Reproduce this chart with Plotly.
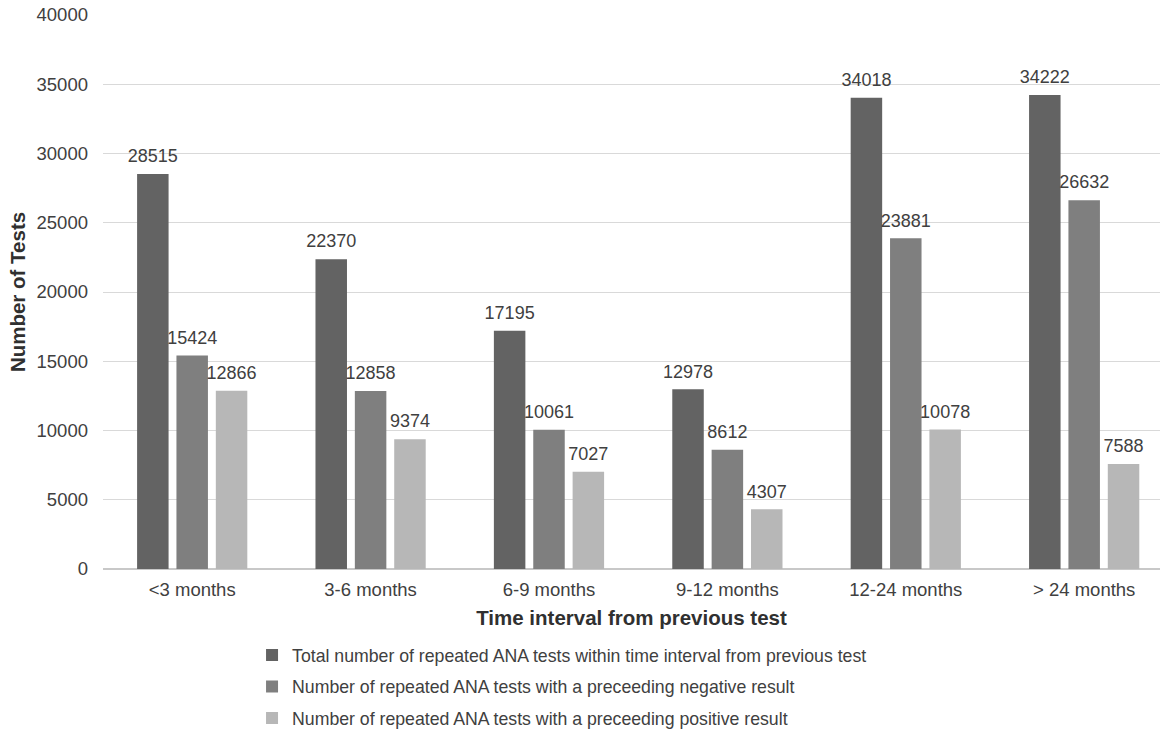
import plotly.graph_objects as go

categories = ["<3 months", "3-6 months", "6-9 months", "9-12 months", "12-24 months", "> 24 months"]
series_names = [
    "Total number of repeated ANA tests within time interval from previous test",
    "Number of repeated ANA tests with a preceeding negative result",
    "Number of repeated ANA tests with a preceeding positive result",
]
total_vals = [28515, 22370, 17195, 12978, 34018, 34222]
negative_vals = [15424, 12858, 10061, 8612, 23881, 26632]
positive_vals = [12866, 9374, 7027, 4307, 10078, 7588]
y_ticks = [0, 5000, 10000, 15000, 20000, 25000, 30000, 35000, 40000]

colors = ["#636363", "#7f7f7f", "#b7b7b7"]
font_family = "Liberation Sans, Arial, sans-serif"
text_color = "#404040"
BARGAP = 0.338

fig = go.Figure()
all_vals = [total_vals, negative_vals, positive_vals]
for i, (name, vals) in enumerate(zip(series_names, all_vals)):
    fig.add_trace(go.Bar(
        x=categories, y=vals, name=name,
        marker=dict(color=colors[i], line=dict(width=0)),
        offsetgroup=f"g{i}", legendgroup=f"g{i}", hoverinfo="x+y",
    ))
# value labels placed above each bar
for i, vals in enumerate(all_vals):
    fig.add_trace(go.Scatter(
        x=categories, y=vals, mode="markers+text",
        marker=dict(size=10, color="rgba(0,0,0,0)"),
        text=[str(v) for v in vals], textposition="top center",
        textfont=dict(size=18, color=text_color, family=font_family),
        offsetgroup=f"g{i}", showlegend=False, hoverinfo="skip", cliponaxis=False,
    ))

fig.update_layout(
    width=1169, height=732,
    margin=dict(l=103, r=9, t=15, b=163, autoexpand=False),
    paper_bgcolor="white", plot_bgcolor="white",
    barmode="group", bargap=BARGAP, bargroupgap=0.2,
    scattermode="group", scattergap=BARGAP,
    font=dict(family=font_family, size=18, color=text_color),
    showlegend=True,
    legend=dict(orientation="v", x=0.141, xanchor="left", y=-0.1227, yanchor="top",
                font=dict(size=17.7, color=text_color), tracegroupgap=5.5,
                itemwidth=30),
    xaxis=dict(
        title=dict(text="<b>Time interval from previous test</b>", font=dict(size=20.5, color="#303030"), standoff=12),
        tickfont=dict(size=18.5, color=text_color), showline=False, ticks="",
        ticklabelstandoff=7, range=[-0.5, 5.425],
    ),
    yaxis=dict(
        title=dict(text="<b>Number of Tests</b>", font=dict(size=20.5, color="#303030"), standoff=5),
        range=[0, 40000], tickvals=y_ticks, ticktext=[str(t) for t in y_ticks],
        tickfont=dict(size=18.5, color=text_color),
        showgrid=True, gridcolor="#d9d9d9", gridwidth=1,
        zeroline=True, zerolinecolor="#c8c8c8", zerolinewidth=1.5,
        ticks="", ticklabelstandoff=14,
    ),
)

fig.write_html("out.html")
